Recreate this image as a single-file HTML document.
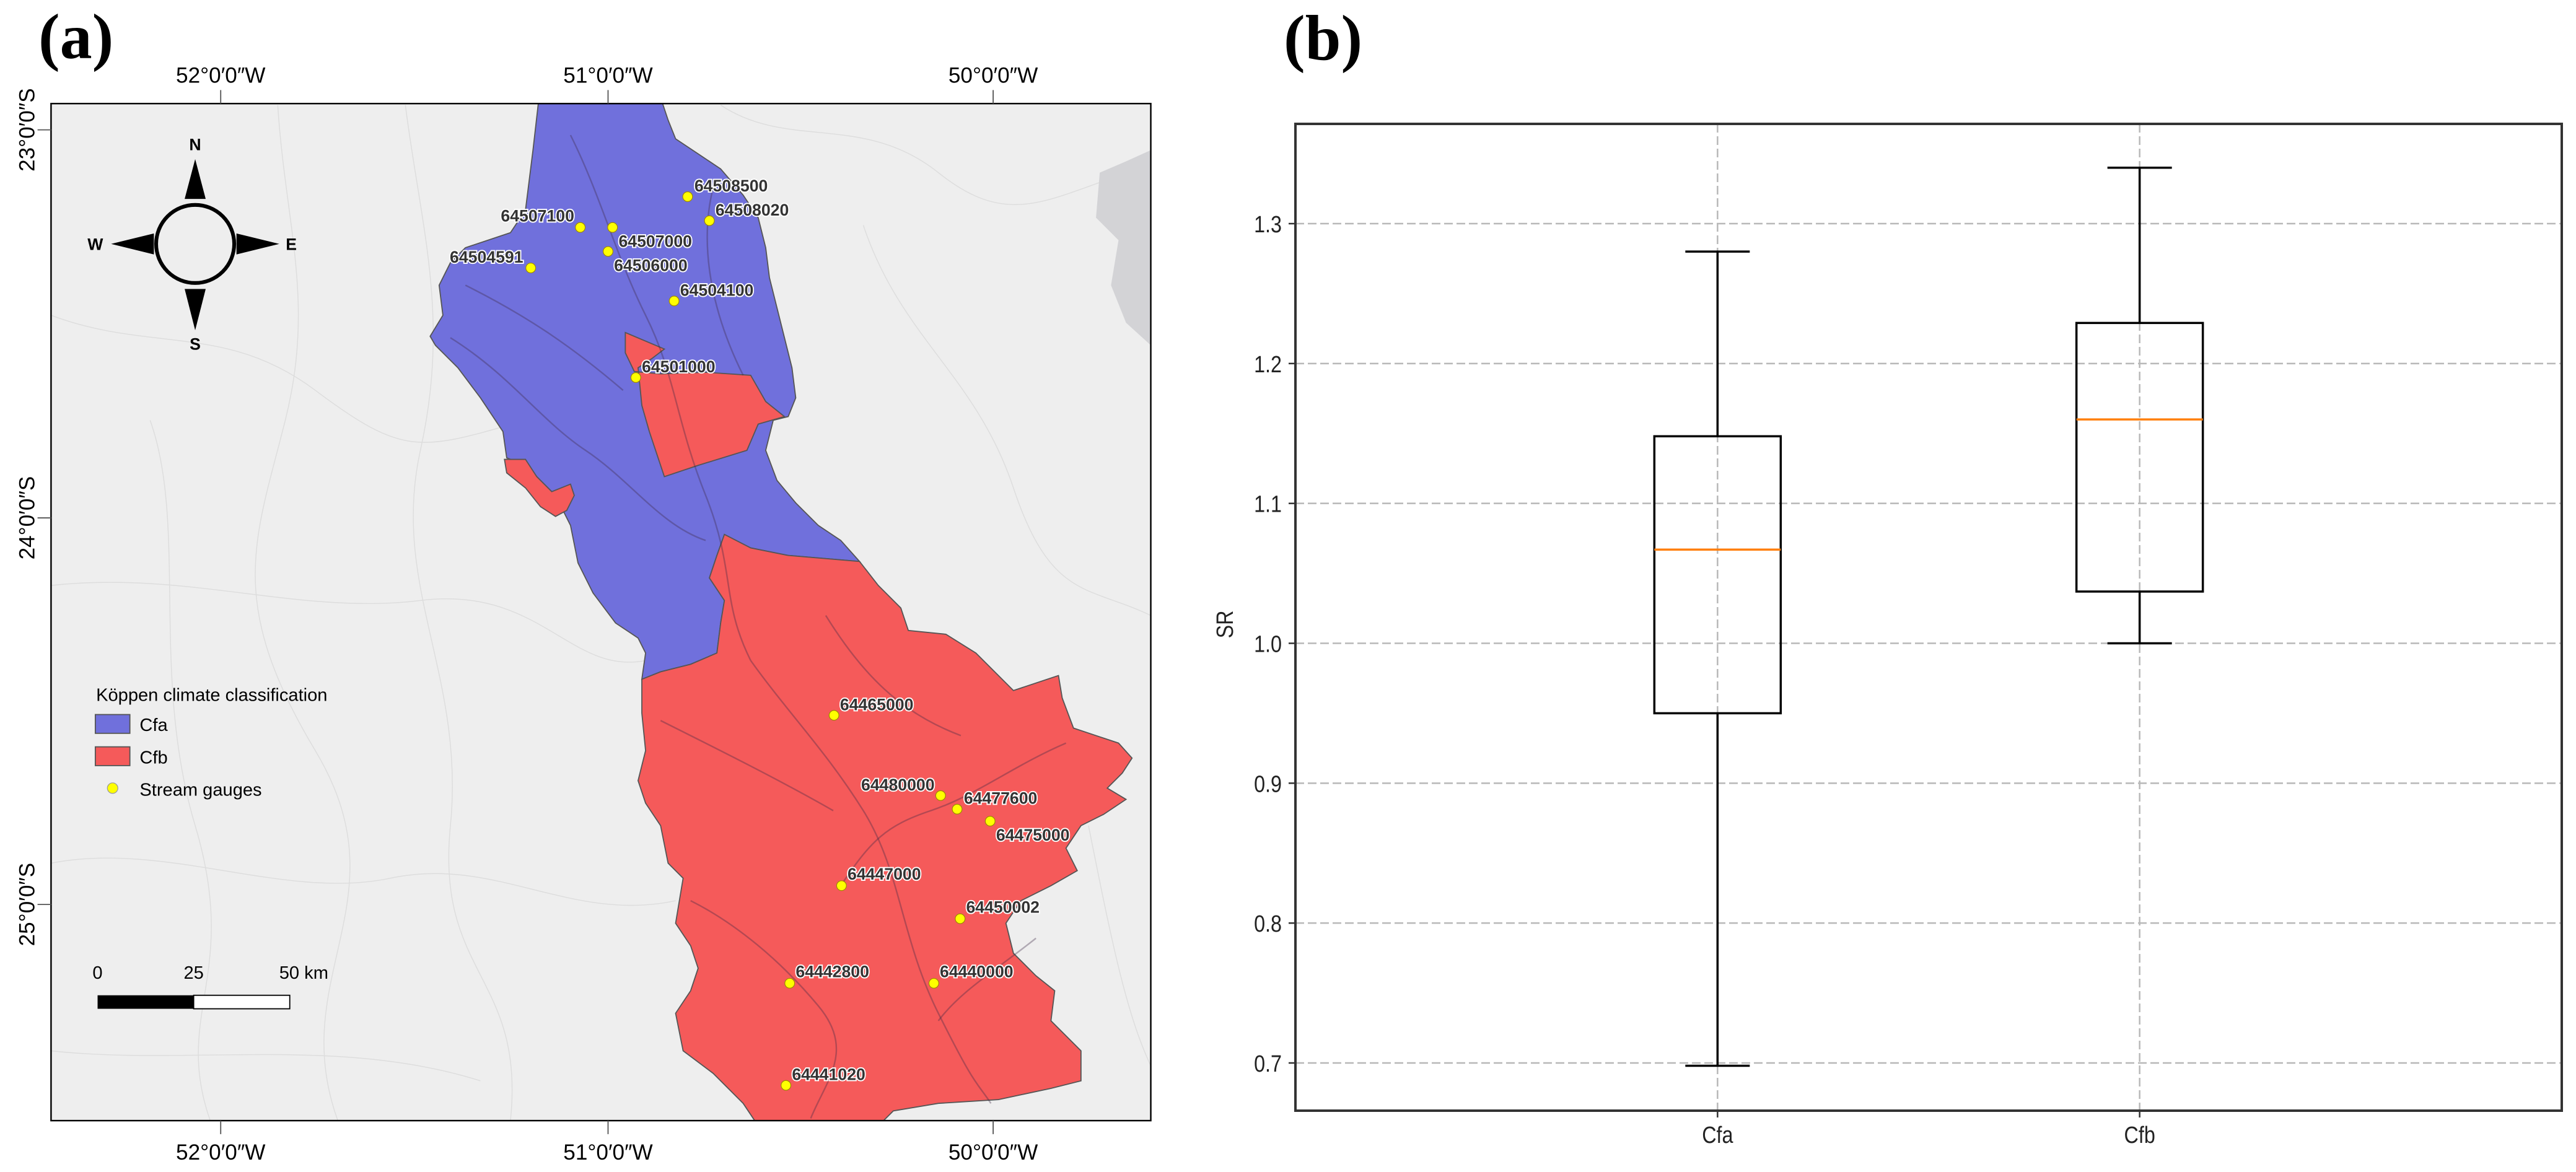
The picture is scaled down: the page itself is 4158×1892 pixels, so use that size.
<!DOCTYPE html>
<html><head><meta charset="utf-8"><style>
html,body{margin:0;padding:0;background:#fff;}
svg{display:block;}
text{font-family:"Liberation Sans",sans-serif;}
</style></head><body>
<svg id="fig" width="4158" height="1892" viewBox="0 0 4158 1892" xmlns="http://www.w3.org/2000/svg">
<text x="62" y="94" font-family="Liberation Serif" font-weight="bold" font-size="104" style="font-family:'Liberation Serif',serif">(a)</text>
<text x="2072" y="96" font-weight="bold" font-size="104" style="font-family:'Liberation Serif',serif">(b)</text>

<g id="map" transform="scale(1.2117)">
  <defs><clipPath id="mapclip"><rect x="68" y="138" width="1465" height="1355"/></clipPath></defs>
  <rect x="68" y="138" width="1465" height="1355" fill="#eeeeee"/>
  <g clip-path="url(#mapclip)" fill="none" stroke="#dddddd" stroke-width="1.2">
    <path d="M370 140 C380 300 420 400 380 560 S300 800 420 1000 S380 1300 450 1493"/>
    <path d="M68 420 C200 470 300 430 420 520 S560 600 700 560"/>
    <path d="M68 780 C250 760 400 820 560 800 S760 900 860 880"/>
    <path d="M540 140 C560 300 600 420 560 600 S620 900 600 1100 S700 1300 680 1493"/>
    <path d="M68 1150 C220 1120 380 1200 520 1170 S760 1230 900 1200"/>
    <path d="M960 140 C1050 200 1150 150 1250 230 S1400 260 1533 220"/>
    <path d="M1150 300 C1200 450 1300 500 1350 650 S1450 780 1533 820"/>
    <path d="M200 560 C250 700 200 900 260 1100 S230 1350 280 1493"/>
    <path d="M1450 1100 C1480 1250 1500 1350 1533 1420"/>
    <path d="M68 1400 C250 1420 450 1380 640 1440"/>
  </g>
  <path d="M1465 230 L1500 215 L1533 200 L1533 460 L1500 430 L1480 380 L1490 320 L1460 290 Z" fill="#d3d3d6" clip-path="url(#mapclip)"/>
  <g clip-path="url(#mapclip)">
  <path fill="#7070dc" stroke="#555" stroke-width="1.5" d="M718 130 L880 130 L890 160 L900 185 L930 205 L960 225 L990 260 L1010 290 L1020 330 L1025 370 L1035 410 L1045 450 L1055 490 L1060 530 L1050 555 L1030 560 L1020 600 L1035 640 L1060 670 L1090 700 L1120 720 L1145 748 L1050 740 L1000 730 L965 712 L955 740 L945 770 L965 800 L960 830 L955 870 L920 885 L880 895 L855 905 L860 870 L850 850 L820 830 L790 790 L770 750 L760 700 L740 660 L720 640 L700 620 L675 610 L670 575 L640 530 L610 490 L580 460 L573 448 L590 420 L585 380 L600 350 L620 330 L680 310 L700 280 L705 240 L710 200 Z"/>
  <path fill="#f55a5a" stroke="#555" stroke-width="1.5" d="M833 443 L885 465 L868 478 L850 490 L855 540 L865 575 L885 635 L930 620 L995 600 L1010 565 L1045 555 L1020 535 L1000 500 L940 496 L880 498 L845 495 L833 470 Z"/>
  <path fill="#f55a5a" stroke="#555" stroke-width="1.5" d="M672 612 L700 612 L715 635 L735 655 L760 645 L765 660 L755 680 L740 688 L720 675 L700 650 L675 630 Z"/>
  <path fill="#f55a5a" stroke="#555" stroke-width="1.5" d="M855 905 L880 895 L920 885 L955 870 L960 830 L965 800 L945 770 L955 740 L965 712 L1000 730 L1050 740 L1145 748 L1170 780 L1200 810 L1210 840 L1260 845 L1300 870 L1350 920 L1410 900 L1415 930 L1430 970 L1490 990 L1508 1010 L1495 1030 L1475 1050 L1500 1065 L1470 1085 L1440 1100 L1420 1130 L1435 1160 L1400 1180 L1360 1200 L1340 1230 L1350 1270 L1380 1300 L1405 1320 L1400 1360 L1440 1400 L1440 1440 L1400 1450 L1330 1465 L1250 1470 L1190 1480 L1170 1500 L1010 1500 L990 1470 L950 1430 L910 1400 L900 1350 L920 1320 L930 1290 L920 1260 L900 1230 L910 1170 L890 1150 L880 1100 L860 1070 L850 1040 L860 1000 L855 950 Z"/>
  <g fill="none" stroke="rgba(60,40,70,0.35)" stroke-width="2">
    <path d="M760 180 C800 260 820 340 860 420 S900 560 940 660 S960 800 1000 880"/>
    <path d="M620 380 C700 420 760 460 830 520"/>
    <path d="M600 450 C680 500 720 560 780 600 S880 700 940 720"/>
    <path d="M950 250 C930 330 950 420 990 500"/>
    <path d="M1000 880 C1050 950 1100 1000 1150 1080 S1200 1250 1250 1350 S1300 1440 1320 1470"/>
    <path d="M880 960 C960 1000 1040 1040 1110 1080"/>
    <path d="M1420 990 C1350 1020 1300 1060 1240 1080 S1160 1120 1120 1180"/>
    <path d="M920 1200 C980 1230 1040 1280 1090 1340 S1100 1440 1080 1490"/>
    <path d="M1380 1250 C1330 1290 1280 1320 1250 1360"/>
    <path d="M1100 820 C1150 900 1200 950 1280 980"/>
  </g>
  </g>
  <rect x="68" y="138" width="1465" height="1355" fill="none" stroke="#000" stroke-width="2"/>
  <g stroke="#555" stroke-width="1.5">
    <line x1="294" y1="138" x2="294" y2="120"/><line x1="810" y1="138" x2="810" y2="120"/><line x1="1323" y1="138" x2="1323" y2="120"/>
    <line x1="294" y1="1493" x2="294" y2="1511"/><line x1="810" y1="1493" x2="810" y2="1511"/><line x1="1323" y1="1493" x2="1323" y2="1511"/>
    <line x1="68" y1="173" x2="50" y2="173"/><line x1="68" y1="690" x2="50" y2="690"/><line x1="68" y1="1205" x2="50" y2="1205"/>
  </g>
  <g font-size="29" text-anchor="middle" fill="#000">
    <text x="294" y="110">52°0′0″W</text>
    <text x="810" y="110">51°0′0″W</text>
    <text x="1323" y="110">50°0′0″W</text>
    <text x="294" y="1545">52°0′0″W</text>
    <text x="810" y="1545">51°0′0″W</text>
    <text x="1323" y="1545">50°0′0″W</text>
    <text transform="translate(46,173) rotate(-90)">23°0′0″S</text>
    <text transform="translate(46,690) rotate(-90)">24°0′0″S</text>
    <text transform="translate(46,1205) rotate(-90)">25°0′0″S</text>
  </g>
  <g>
    <polygon points="260,212 246,265 274,265" fill="#000"/>
    <polygon points="260,440 246,385 274,385" fill="#000"/>
    <polygon points="148,325 205,311 205,339" fill="#000"/>
    <polygon points="372,325 315,311 315,339" fill="#000"/>
    <circle cx="260" cy="325" r="52" fill="none" stroke="#000" stroke-width="5"/>
    <g font-size="22" font-weight="bold" text-anchor="middle">
      <text x="260" y="200">N</text><text x="260" y="466">S</text><text x="127" y="333">W</text><text x="388" y="333">E</text>
    </g>
  </g>
  <g font-size="24">
    <text x="128" y="934">Köppen climate classification</text>
    <rect x="127" y="952" width="46" height="25" fill="#7070dc" stroke="#555" stroke-width="1.5"/>
    <text x="186" y="974">Cfa</text>
    <rect x="127" y="995" width="46" height="25" fill="#f55a5a" stroke="#555" stroke-width="1.5"/>
    <text x="186" y="1017">Cfb</text>
    <circle cx="150" cy="1050" r="7" fill="#ffff00" stroke="#999" stroke-width="1"/>
    <text x="186" y="1060">Stream gauges</text>
  </g>
  <g font-size="24">
    <text x="130" y="1304" text-anchor="middle">0</text>
    <text x="258" y="1304" text-anchor="middle">25</text>
    <text x="372" y="1304">50 km</text>
    <rect x="130" y="1326" width="128" height="18" fill="#000"/>
    <rect x="258" y="1326" width="128" height="18" fill="#fff" stroke="#000" stroke-width="1.5"/>
  </g>
  <g id="gauges"></g>
</g>

<g id="box"></g>
</svg>
<script>
// ---- map gauge data ----
const gaugeIds = ["64508500","64508020","64507100","64507000","64506000","64504591","64504100","64501000","64465000","64480000","64477600","64475000","64447000","64450002","64442800","64440000","64441020"];
const gaugeX = [916,945,773,816,810,707,898,847,1111,1253,1275,1319,1121,1279,1052,1244,1047];
const gaugeY = [262,294,303,303,335,357,401,503,953,1060,1078,1094,1180,1224,1310,1310,1446];
const labelDX = [9,8,-8,8,8,-10,8,8,8,-8,9,8,8,8,8,8,8];
const labelDY = [-7,-7,-8,26,26,-7,-7,-7,-7,-7,-7,26,-8,-8,-8,-8,-7];
const NS='http://www.w3.org/2000/svg';
const gg=document.getElementById('gauges');
gaugeIds.forEach((id,i)=>{
  const c=document.createElementNS(NS,'circle');
  c.setAttribute('cx',gaugeX[i]);c.setAttribute('cy',gaugeY[i]);c.setAttribute('r',6.5);
  c.setAttribute('fill','#ffff00');c.setAttribute('stroke','#a08a00');c.setAttribute('stroke-width','1');
  
  
  gg.appendChild(c);
  const t=document.createElementNS(NS,'text');
  t.setAttribute('x',gaugeX[i]+labelDX[i]);t.setAttribute('y',gaugeY[i]+labelDY[i]);
  t.setAttribute('text-anchor',labelDX[i]<0?'end':'start');
  t.setAttribute('font-size','22');t.setAttribute('font-weight','bold');
  t.setAttribute('fill','#333');t.setAttribute('stroke','#fff');t.setAttribute('stroke-width','3');
  t.setAttribute('paint-order','stroke');
  t.textContent=id;
  
  
  gg.appendChild(t);
});

// ---- boxplot data ----
const categories = ["Cfa","Cfb"];
const whiskerLow = [0.698,1.0];
const q1 = [0.95,1.037];
const median = [1.067,1.16];
const q3 = [1.148,1.229];
const whiskerHigh = [1.28,1.34];
const yTicks = [0.7,0.8,0.9,1.0,1.1,1.2,1.3];
const yTickLabels = ["0.7","0.8","0.9","1.0","1.1","1.2","1.3"];

const L=2091,R=4135,T=200,B=1793;
const yMin=0.7-(1793-1716)/2258, yMax=1.3+(361-200)/2258;
const xMin=0, xMax=categories.length+1;
const sy=v=>B-(v-yMin)/(yMax-yMin)*(B-T);
const sx=v=>L+(v-xMin)/(xMax-xMin)*(R-L);
const bx=document.getElementById('box');
function el(tag,attrs,name){const e=document.createElementNS(NS,tag);for(const k in attrs)e.setAttribute(k,attrs[k]);
  
  
  bx.appendChild(e);return e;}
el('rect',{x:L,y:T,width:R-L,height:B-T,fill:'#fff'},'plot-area');
yTicks.forEach((v,i)=>{
  const y=sy(v);
  el('line',{x1:L,x2:R,y1:y,y2:y,stroke:'#b8b8b8','stroke-width':2.5,'stroke-dasharray':'14 6'},'y-gridline');
  el('line',{x1:L-11,x2:L,y1:y,y2:y,stroke:'#333','stroke-width':2.5},'y-tick');
  const t=el('text',{x:L-22,y:y+14,'text-anchor':'end','font-size':38,fill:'#222',transform:`translate(${L-22},0) scale(0.85,1) translate(${-(L-22)},0)`},'y-tick-label');
  t.textContent=yTickLabels[i];
});
categories.forEach((c,i)=>{
  const x=sx(i+1);
  el('line',{x1:x,x2:x,y1:T,y2:B,stroke:'#b8b8b8','stroke-width':2.5,'stroke-dasharray':'14 6'},'x-gridline');
  el('line',{x1:x,x2:x,y1:B,y2:B+11,stroke:'#333','stroke-width':2.5},'x-tick');
  const t=el('text',{x:x,y:B+52,'text-anchor':'middle','font-size':38,fill:'#222',transform:`translate(${x},0) scale(0.85,1) translate(${-x},0)`},'x-tick-label-'+c.toLowerCase());
  t.textContent=c;
  const hw=102, cw=52;
  el('line',{x1:x,x2:x,y1:sy(whiskerLow[i]),y2:sy(q1[i]),stroke:'#000','stroke-width':3.5},'whisker-low-'+c.toLowerCase());
  el('line',{x1:x,x2:x,y1:sy(q3[i]),y2:sy(whiskerHigh[i]),stroke:'#000','stroke-width':3.5},'whisker-high-'+c.toLowerCase());
  el('line',{x1:x-cw,x2:x+cw,y1:sy(whiskerLow[i]),y2:sy(whiskerLow[i]),stroke:'#000','stroke-width':3.5},'cap-low-'+c.toLowerCase());
  el('line',{x1:x-cw,x2:x+cw,y1:sy(whiskerHigh[i]),y2:sy(whiskerHigh[i]),stroke:'#000','stroke-width':3.5},'cap-high-'+c.toLowerCase());
  el('rect',{x:x-hw,y:sy(q3[i]),width:2*hw,height:sy(q1[i])-sy(q3[i]),fill:'none',stroke:'#000','stroke-width':3.5},'box-'+c.toLowerCase());
  el('line',{x1:x-hw,x2:x+hw,y1:sy(median[i]),y2:sy(median[i]),stroke:'#ff7f0e','stroke-width':3.5},'median-'+c.toLowerCase());
});
el('rect',{x:L,y:T,width:R-L,height:B-T,fill:'none',stroke:'#333','stroke-width':4},'axes-frame');
const yl=el('text',{x:0,y:0,'text-anchor':'middle','font-size':38,fill:'#222',transform:`translate(1990,1008) rotate(-90) scale(0.85,1)`},'y-axis-title');
yl.textContent='SR';
</script>
</body></html>
